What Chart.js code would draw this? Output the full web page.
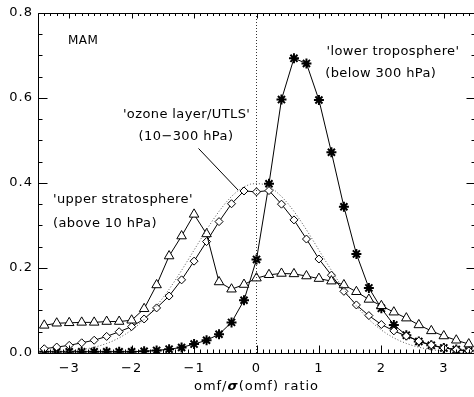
<!DOCTYPE html>
<html><head><meta charset="utf-8">
<script src="https://cdn.jsdelivr.net/npm/chart.js@4/dist/chart.umd.min.js"></script>
<style>
html,body{margin:0;padding:0;background:#fff;overflow:hidden;}
#wrap{position:relative;width:482px;height:397px;}
</style></head><body>
<div id="wrap"><canvas id="c" width="482" height="397"></canvas></div>
<script>
// ---- data ----
const xPoints = [-3.4,-3.2,-3.0,-2.8,-2.6,-2.4,-2.2,-2.0,-1.8,-1.6,-1.4,-1.2,-1.0,-0.8,-0.6,-0.4,-0.2,0.0,
                 0.2,0.4,0.6,0.8,1.0,1.2,1.4,1.6,1.8,2.0,2.2,2.4,2.6,2.8,3.0,3.2,3.4];
const upperStratosphere = [0.065,0.070,0.071,0.072,0.072,0.074,0.074,0.077,0.104,0.160,0.228,0.275,0.326,0.280,0.167,0.150,0.161,0.176,
                 0.184,0.187,0.186,0.181,0.175,0.169,0.160,0.144,0.126,0.111,0.096,0.082,0.066,0.052,0.040,0.030,0.021];
const ozoneLayer = [0.010,0.014,0.018,0.024,0.030,0.039,0.050,0.062,0.080,0.106,0.134,0.172,0.216,0.262,0.309,0.351,0.381,0.379,
                 0.382,0.350,0.313,0.268,0.221,0.183,0.145,0.113,0.088,0.067,0.052,0.040,0.028,0.019,0.012,0.008,0.005];
const lowerTroposphere = [0.003,0.003,0.003,0.003,0.003,0.003,0.003,0.003,0.004,0.006,0.009,0.013,0.021,0.030,0.044,0.072,0.124,0.220,
                 0.398,0.596,0.693,0.681,0.595,0.472,0.344,0.233,0.153,0.105,0.066,0.042,0.027,0.018,0.012,0.008,0.005];
const refX = [-3.5,-3.4,-3.3,-3.2,-3.1,-3.0,-2.9,-2.8,-2.7,-2.6,-2.5,-2.4,-2.3,-2.2,-2.1,-2.0,-1.9,-1.8,-1.7,-1.6,-1.5,-1.4,-1.3,-1.2,-1.1,-1.0,
              -0.9,-0.8,-0.7,-0.6,-0.5,-0.4,-0.3,-0.2,-0.1,0.0,0.1,0.2,0.3,0.4,0.5,0.6,0.7,0.8,0.9,1.0,1.1,1.2,1.3,1.4,1.5,1.6,1.7,1.8,
              1.9,2.0,2.1,2.2,2.3,2.4,2.5,2.6,2.7,2.8,2.9,3.0,3.1,3.2,3.3,3.4,3.5];
const refCurve = [0.0009,0.0012,0.0017,0.0024,0.0033,0.0044,0.0060,0.0079,0.0104,0.0136,0.0175,0.0224,0.0283,0.0355,0.0440,0.0540,0.0656,0.0790,
              0.0940,0.1109,0.1295,0.1497,0.1714,0.1942,0.2179,0.2420,0.2661,0.2897,0.3123,0.3332,0.3521,0.3683,0.3814,0.3910,0.3970,0.3989,
              0.3970,0.3910,0.3814,0.3683,0.3521,0.3332,0.3123,0.2897,0.2661,0.2420,0.2179,0.1942,0.1714,0.1497,0.1295,0.1109,0.0940,0.0790,
              0.0656,0.0540,0.0440,0.0355,0.0283,0.0224,0.0175,0.0136,0.0104,0.0079,0.0060,0.0044,0.0033,0.0024,0.0017,0.0012,0.0009];
const xTicks = [-3,-2,-1,0,1,2,3];
const yTicks = [0.0,0.2,0.4,0.6,0.8];
const xTitle = ['omf/','σ','(omf) ratio'];
const seasonLabel = 'MAM';
const labelOzone = ["'ozone layer/UTLS'", '(10\u2212300 hPa)'];
const labelLower = ["'lower troposphere'", '(below 300 hPa)'];
const labelUpper = ["'upper stratosphere'", '(above 10 hPa)'];

const FONT = 'DejaVu Sans';
const pts = (ys) => xPoints.map((x,i)=>({x, y: ys[i]}));

const idlPlugin = {
  id: 'idl',
  beforeDraw(chart){ chart.ctx.letterSpacing = '1px'; },
  afterDatasetsDraw(chart){
    const {ctx, chartArea:a, scales:{x, y}} = chart;
    ctx.save();
    ctx.strokeStyle = '#000'; ctx.lineWidth = 1;
    const L = Math.round(a.left)+0.5, R = Math.round(a.right)+0.5, T = Math.round(a.top)+0.5, B = Math.round(a.bottom)+0.5;
    ctx.beginPath();
    ctx.moveTo(L,T); ctx.lineTo(R,T); ctx.lineTo(R,B); ctx.lineTo(L,B); ctx.closePath();
    for (let i=-35;i<=35;i++){
      const px = Math.round(x.getPixelForValue(i/10))+0.5;
      const major = i%10===0;
      ctx.moveTo(px,B); ctx.lineTo(px,B-(major?8:4));
      ctx.moveTo(px,T); ctx.lineTo(px,T+(major?5:2.5));
    }
    for (let i=0;i<=16;i++){
      const py = Math.round(y.getPixelForValue(i*0.05))+0.5;
      const major = i%4===0;
      ctx.moveTo(L,py); ctx.lineTo(L+(major?9:4),py);
      ctx.moveTo(R,py); ctx.lineTo(R-(major?9:4),py);
    }
    ctx.stroke();
    ctx.fillStyle = '#000';
    ctx.textBaseline = 'middle';
    const put = (t, xv, yv, align) => { ctx.textAlign = align; ctx.fillText(t, x.getPixelForValue(xv), y.getPixelForValue(yv)); };
    ctx.letterSpacing = '0.5px';
    ctx.font = '12px "'+FONT+'"';
    put(seasonLabel, -3.02, 0.733, 'left');
    ctx.letterSpacing = '0.4px';
    ctx.font = '13px "'+FONT+'"';
    put(labelOzone[0], -1.12, 0.560, 'center');
    put(labelOzone[1], -1.13, 0.509, 'center');
    put(labelLower[0], 1.12, 0.709, 'left');
    put(labelLower[1], 1.10, 0.658, 'left');
    put(labelUpper[0], -3.26, 0.360, 'left');
    put(labelUpper[1], -3.26, 0.304, 'left');
    ctx.letterSpacing = '1px';
    ctx.font = '13px "'+FONT+'"';
    const w0 = ctx.measureText(xTitle[0]).width;
    ctx.font = 'italic bold 13px "'+FONT+'"';
    const w1 = ctx.measureText(xTitle[1]).width;
    ctx.font = '13px "'+FONT+'"';
    const w2 = ctx.measureText(xTitle[2]).width;
    let cx = (a.left+a.right)/2 - (w0+w1+w2)/2;
    const ty = 387;
    ctx.textAlign = 'left';
    ctx.fillText(xTitle[0], cx, ty); cx += w0;
    ctx.font = 'italic bold 13px "'+FONT+'"';
    ctx.fillText(xTitle[1], cx, ty); cx += w1;
    ctx.font = '13px "'+FONT+'"';
    ctx.fillText(xTitle[2], cx, ty);
    ctx.restore();
  }
};

new Chart(document.getElementById('c'), {
  type: 'line',
  data: {
    datasets: [
      { data: refX.map((v,i)=>({x:v,y:refCurve[i]})), borderColor:'#555', borderWidth:1, borderDash:[1,2], pointRadius:0, tension:0 },
      { data: [{x:0,y:0},{x:0,y:0.8}], borderColor:'#333', borderWidth:1, borderDash:[1,2], pointRadius:0 },
      { data: [{x:-0.929,y:0.481},{x:-0.294,y:0.383}], borderColor:'#000', borderWidth:1, pointRadius:0 },
      { data: pts(upperStratosphere), borderColor:'#000', borderWidth:1, pointStyle:'triangle', pointRadius:5.5, pointBorderWidth:1, pointBackgroundColor:'#fff', pointBorderColor:'#000' },
      { data: pts(ozoneLayer), borderColor:'#000', borderWidth:1, pointStyle:'rectRot', pointRadius:4, pointBorderWidth:1, pointBackgroundColor:'#fff', pointBorderColor:'#000' },
      { data: pts(lowerTroposphere), borderColor:'#000', borderWidth:1, pointStyle:'star', pointRadius:5, pointBorderWidth:2, pointBorderColor:'#000' }
    ]
  },
  options: {
    responsive: false, devicePixelRatio: 1, animation: false,
    layout: { padding: { top: 9, right: 3, left: 0, bottom: 0 } },
    plugins: { legend: { display: false }, tooltip: { enabled: false } },
    scales: {
      x: { type: 'linear', min: -3.5, max: 3.5,
        afterFit(s){ s.height = 44; },
        afterBuildTicks(s){ s.ticks = xTicks.map(v=>({value:v})); },
        ticks: { callback: v => (v<0?'\u2212':'') + Math.abs(v), font: { family: FONT, size: 13 }, color: '#000', padding: 8, maxRotation: 0, autoSkip: false },
        grid: { display: false, drawTicks: false }, border: { display: false } },
      y: { min: 0, max: 0.8,
        afterFit(s){ s.width = 38; },
        afterBuildTicks(s){ s.ticks = yTicks.map(v=>({value:v})); },
        ticks: { callback: v => v.toFixed(1), font: { family: FONT, size: 13 }, color: '#000', padding: 5, autoSkip: false },
        grid: { display: false, drawTicks: false }, border: { display: false } }
    }
  },
  plugins: [idlPlugin]
});
</script>
</body></html>
